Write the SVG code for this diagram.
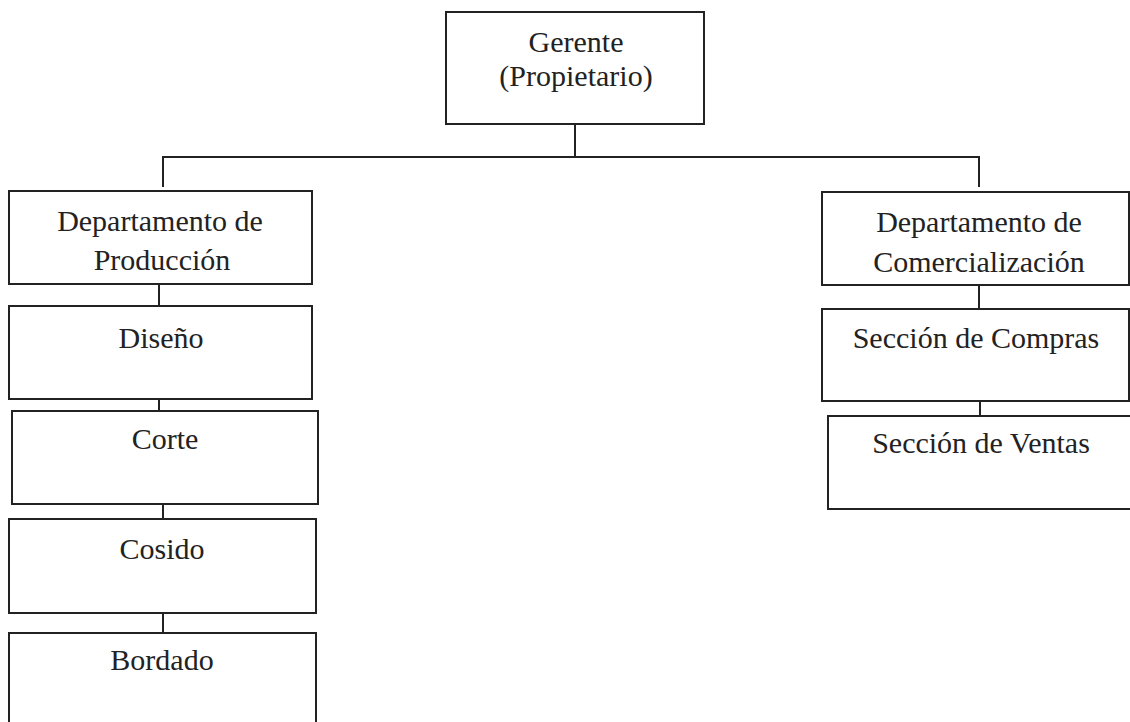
<svg xmlns="http://www.w3.org/2000/svg" width="1130" height="722" viewBox="0 0 1130 722">
<style>
.box{fill:#fff;stroke:#222;stroke-width:2}
.ln{stroke:#222;stroke-width:2;fill:none}
text{font-family:"Liberation Serif","Times New Roman",serif;font-size:30px;fill:#222;text-anchor:middle}
</style>
<rect width="1130" height="722" fill="#fff"/>
<g id="connectors">
<line class="ln" x1="575" y1="124" x2="575" y2="157"/>
<line class="ln" x1="162" y1="157" x2="980" y2="157"/>
<line class="ln" x1="163" y1="157" x2="163" y2="187"/>
<line class="ln" x1="979" y1="157" x2="979" y2="187"/>
<line class="ln" x1="159" y1="284" x2="159" y2="306"/>
<line class="ln" x1="159" y1="399" x2="159" y2="411"/>
<line class="ln" x1="163" y1="504" x2="163" y2="519"/>
<line class="ln" x1="163" y1="613" x2="163" y2="633"/>
<line class="ln" x1="979" y1="285" x2="979" y2="309"/>
<line class="ln" x1="980" y1="401" x2="980" y2="416"/>
</g>
<g id="gerente">
<rect class="box" x="446" y="12" width="258" height="112"/>
<text x="576" y="52">Gerente</text>
<text x="576" y="86">(Propietario)</text>
</g>
<g id="produccion">
<rect class="box" x="9" y="191" width="303" height="93"/>
<text x="160" y="231">Departamento de</text>
<text x="162" y="270">Producción</text>
</g>
<g id="diseno">
<rect class="box" x="9" y="306" width="303" height="93"/>
<text x="161" y="348">Diseño</text>
</g>
<g id="corte">
<rect class="box" x="12" y="411" width="306" height="93"/>
<text x="165" y="449">Corte</text>
</g>
<g id="cosido">
<rect class="box" x="9" y="519" width="307" height="94"/>
<text x="162" y="559">Cosido</text>
</g>
<g id="bordado">
<rect class="box" x="9" y="633" width="307" height="93"/>
<text x="162" y="670">Bordado</text>
</g>
<g id="comercializacion">
<rect class="box" x="822" y="192" width="307" height="93"/>
<text x="979" y="232">Departamento de</text>
<text x="979" y="272">Comercialización</text>
</g>
<g id="compras">
<rect class="box" x="822" y="309" width="307" height="92"/>
<text x="976" y="348">Sección de Compras</text>
</g>
<g id="ventas">
<rect class="box" x="828" y="416" width="310" height="93"/>
<text x="981" y="453">Sección de Ventas</text>
</g>
</svg>
